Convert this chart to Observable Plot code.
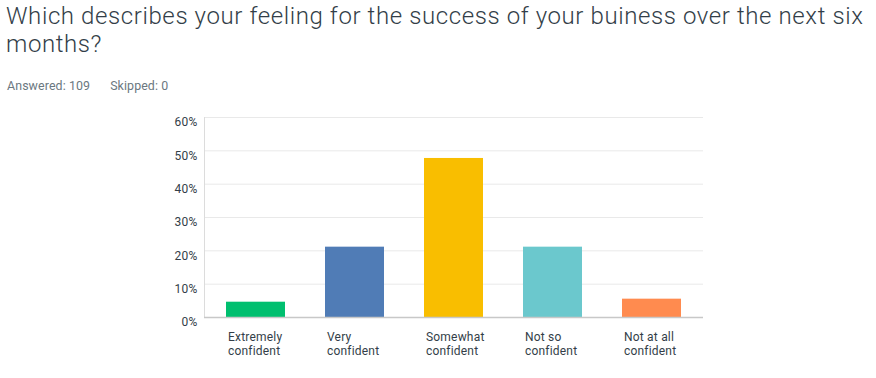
<!DOCTYPE html>
<html>
<head>
<meta charset="utf-8">
<script src="https://cdn.jsdelivr.net/npm/d3@7"></script>
<script src="https://cdn.jsdelivr.net/npm/@observablehq/plot@0.6"></script>
<style>
  html, body { margin: 0; padding: 0; background: #fff; }
  body { width: 876px; height: 378px; position: relative; overflow: hidden; font-family: Roboto, "Noto Sans", sans-serif; }
  #title { position: absolute; left: 6px; top: 2px; width: 870px; font-size: 24px; letter-spacing: 0.6px; font-weight: 300; line-height: 28px; color: #333e48; white-space: nowrap; }
  #sub { position: absolute; left: 7px; top: 78px; font-size: 12.4px; letter-spacing: 0.1px; color: #6b787f; white-space: pre; }
  #sub span { margin-left: 20px; }
  #chart { position: absolute; left: 0; top: 100px; }
  #chart svg text { letter-spacing: 0.2px; }
</style>
</head>
<body>
<div id="title">Which describes your feeling for the success of your buiness over the next six<br>months?</div>
<div id="sub">Answered: 109<span>Skipped: 0</span></div>
<div id="chart"></div>
<script>
const categories = ["Extremely\nconfident", "Very\nconfident", "Somewhat\nconfident", "Not so\nconfident", "Not at all\nconfident"];
const percents = [4.59, 21.10, 47.71, 21.10, 5.50];
const colors = ["#00bf6f", "#507cb6", "#f9be00", "#6bc8cd", "#ff8b4f"];
const yTicks = [0, 10, 20, 30, 40, 50, 60];

const data = categories.map((c, i) => ({category: c, percent: percents[i], color: colors[i]}));

const chart = Plot.plot({
  width: 876,
  height: 267,
  marginTop: 17,
  marginBottom: 50,
  marginLeft: 204,
  marginRight: 173,
  style: {fontFamily: "Roboto, 'Noto Sans', sans-serif", fontSize: "12px", color: "#333e48", background: "transparent"},
  x: {domain: categories, paddingInner: 0.4, paddingOuter: 0.2, label: null},
  y: {domain: [0, 60], label: null},
  marks: [
    Plot.gridY(yTicks.filter(d => d > 0), {stroke: "#e9e9e9", strokeOpacity: 1, strokeWidth: 1}),
    Plot.barY(data, {x: "category", y: "percent", fill: "color"}),
    Plot.frame({anchor: "left", stroke: "#dcdcdc", strokeWidth: 1}),
    Plot.ruleY([0], {stroke: "#c8c8c8", strokeWidth: 1.5}),
    Plot.axisY(yTicks, {tickSize: 0, tickPadding: 7, dy: 5, tickFormat: d => d + "%", label: null, fill: "#333e48"}),
    Plot.axisX({tickSize: 0, tickPadding: 14, textAnchor: "start", dx: -28, lineHeight: 1.13, label: null, fill: "#333e48"})
  ]
});
document.getElementById("chart").appendChild(chart);
</script>
</body>
</html>
